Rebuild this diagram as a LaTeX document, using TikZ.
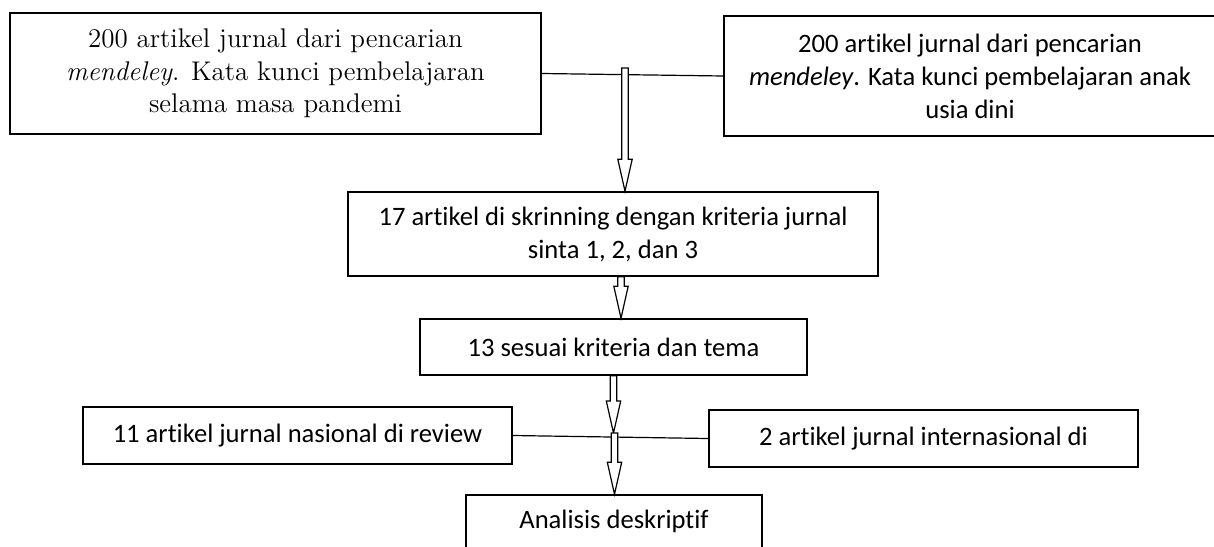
\documentclass[tikz,border=0pt]{standalone}
\usepackage{fontspec}
\newfontfamily\calibri[Ligatures=NoCommon]{Carlito}
\usetikzlibrary{calc}

\begin{document}
\begin{tikzpicture}[x=0.5pt,y=-0.5pt]
	\tikzset{box/.style={draw,line width=0.8pt,inner sep=2pt,align=center,font=\calibri\fontsize{13.3}{16.5}\selectfont},
		hollow/.style={draw,fill=white,line width=0.6pt,
			to path={let \p1=(\tikztostart), \p2=(\tikztotarget) in
				(\x1-1.6pt,\y1) -- (\x1-1.6pt,\y2+16pt) -- (\x1-3.6pt,\y2+16pt) -- (\x1,\y2)
				-- (\x1+3.6pt,\y2+16pt) -- (\x1+1.6pt,\y2+16pt) -- (\x1+1.6pt,\y1) -- cycle}}}
	\clip (0,0) rectangle (1214,546);
	\node[box,font=\fontsize{13.5}{16.25}\selectfont,minimum width=265.5pt,minimum height=60.5pt] (src1) at (275.5,73.5) {200 artikel jurnal dari pencarian\\ \textit{mendeley}. Kata kunci pembelajaran\\ selama masa pandemi};
	\node[box,minimum width=246pt,minimum height=60pt] (src2) at (970,76) {200 artikel jurnal dari pencarian\\ \textit{mendeley}. Kata kunci pembelajaran anak\\ usia dini};
	\node[box,minimum width=265pt,minimum height=42pt] (scr) at (613,234) {17 artikel di skrinning dengan kriteria jurnal\\ sinta 1, 2, dan 3};
	\node[box,minimum width=193.5pt,minimum height=28pt] (sel) at (613.5,347) {13 sesuai kriteria dan tema};
	\node[box,minimum width=214.5pt,minimum height=28.5pt] (nas) at (297.5,435.5) {11 artikel jurnal nasional di review};
	\node[box,minimum width=214.5pt,minimum height=28.5pt] (int) at (923.5,438.5) {2 artikel jurnal internasional di};
	\node[box,minimum width=148pt,minimum height=26.5pt] (ana) at (614,521.5) {Analisis deskriptif};
	\coordinate (j1) at (625,68);
	\coordinate (j2) at (614.5,433);
	\draw[line width=0.6pt] (src1.east) -- (src2.west);
	\draw[line width=0.6pt] (nas.east) -- (int.west);
	% double arrows
	\draw[hollow] (j1) to (scr.north -| j1);
	\draw[hollow] ([xshift=4pt]scr.south) to ([xshift=4pt]sel.north);
	\draw[hollow] (sel.south) to (j2);
	\draw[hollow] (j2) to (ana.north -| j2);
\end{tikzpicture}
\end{document}
